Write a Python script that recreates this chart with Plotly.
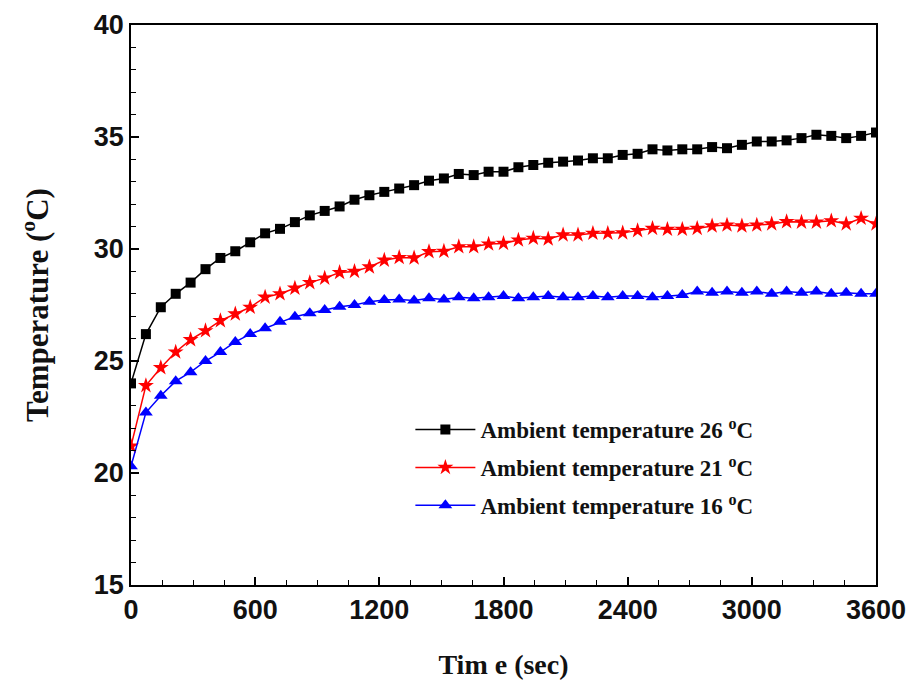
import plotly.graph_objects as go

time_s = [i * 72 for i in range(51)]

temp_26 = [24.0, 26.2, 27.4, 28.0, 28.5, 29.1, 29.6, 29.9, 30.3, 30.7,
           30.9, 31.2, 31.5, 31.7, 31.9, 32.2, 32.4, 32.55, 32.7, 32.85,
           33.05, 33.15, 33.35, 33.3, 33.45, 33.45, 33.65, 33.75, 33.85, 33.9,
           33.95, 34.05, 34.05, 34.2, 34.25, 34.45, 34.4, 34.45, 34.45, 34.55,
           34.5, 34.65, 34.8, 34.8, 34.85, 34.95, 35.1, 35.05, 34.95, 35.05,
           35.2]

temp_21 = [21.2, 23.9, 24.7, 25.4, 25.95, 26.35, 26.8, 27.1, 27.4, 27.85,
           28.0, 28.25, 28.5, 28.7, 28.95, 29.0, 29.2, 29.5, 29.62, 29.6,
           29.88, 29.9, 30.1, 30.1, 30.22, 30.25, 30.4, 30.48, 30.45, 30.63,
           30.63, 30.7, 30.7, 30.72, 30.82, 30.92, 30.88, 30.88, 30.92, 31.03,
           31.07, 31.03, 31.07, 31.12, 31.22, 31.2, 31.2, 31.26, 31.12, 31.37,
           31.12]

temp_16 = [20.3, 22.7, 23.45, 24.1, 24.5, 25.0, 25.4, 25.85, 26.2, 26.46,
           26.75, 26.98, 27.13, 27.28, 27.42, 27.5, 27.65, 27.72, 27.75, 27.7,
           27.8, 27.75, 27.85, 27.8, 27.85, 27.9, 27.8, 27.85, 27.9, 27.85,
           27.85, 27.9, 27.85, 27.9, 27.9, 27.85, 27.9, 27.95, 28.1, 28.05,
           28.1, 28.05, 28.1, 28.0, 28.1, 28.05, 28.1, 28.0, 28.05, 28.0,
           28.0]

series = [
    ("Ambient temperature 26 <sup>o</sup>C", temp_26, "black", "square", 10),
    ("Ambient temperature 21 <sup>o</sup>C", temp_21, "red", "star", 12),
    ("Ambient temperature 16 <sup>o</sup>C", temp_16, "blue", "triangle-up", 12),
]

fig = go.Figure()
for i, (name, vals, col, sym, sz) in enumerate(series):
    fig.add_trace(go.Scatter(
        x=time_s, y=vals, name=name, mode="lines+markers",
        legendgroup=f"g{i}",
        line=dict(color=col, width=1.5),
        marker=dict(symbol=sym, size=sz, color=col, line=dict(width=0)),
    ))

tick_font = dict(family="Liberation Sans", size=27, color="#111", weight="bold")
title_font = dict(family="Liberation Serif", size=28, color="#111", weight="bold")

fig.update_layout(
    width=914, height=688,
    margin=dict(l=131, r=38, t=25, b=103, autoexpand=False),
    paper_bgcolor="white", plot_bgcolor="white",
    showlegend=True,
    legend=dict(
        x=0.375, y=0.316, xanchor="left", yanchor="top",
        bgcolor="rgba(0,0,0,0)",
        font=dict(family="Liberation Serif", size=23, color="#111", weight="bold"),
        itemwidth=60, tracegroupgap=5,
    ),
    xaxis=dict(
        range=[0, 3600], tickmode="linear", tick0=0, dtick=600,
        ticks="inside", ticklen=8, tickwidth=1.5, tickcolor="black",
        minor=dict(ticks="inside", ticklen=5, tickwidth=1.2, tickcolor="black", dtick=150, showgrid=False),
        showline=True, linecolor="black", linewidth=1.5, mirror=True,
        showgrid=False, zeroline=False, automargin=False,
        tickfont=tick_font,
        title=dict(text="Tim e (sec)", font=title_font, standoff=30),
    ),
    yaxis=dict(
        range=[15, 40], tickmode="linear", tick0=15, dtick=5,
        ticks="inside", ticklen=8, tickwidth=1.5, tickcolor="black",
        minor=dict(ticks="inside", ticklen=5, tickwidth=1.2, tickcolor="black", dtick=1, showgrid=False),
        showline=True, linecolor="black", linewidth=1.5, mirror=True,
        showgrid=False, zeroline=False, automargin=False,
        tickfont=tick_font,
        title=dict(text="Temperature (<sup>o</sup>C)", font=dict(family="Liberation Serif", size=31, color="#111", weight="bold"), standoff=36),
    ),
)

fig.write_html("out.html")
